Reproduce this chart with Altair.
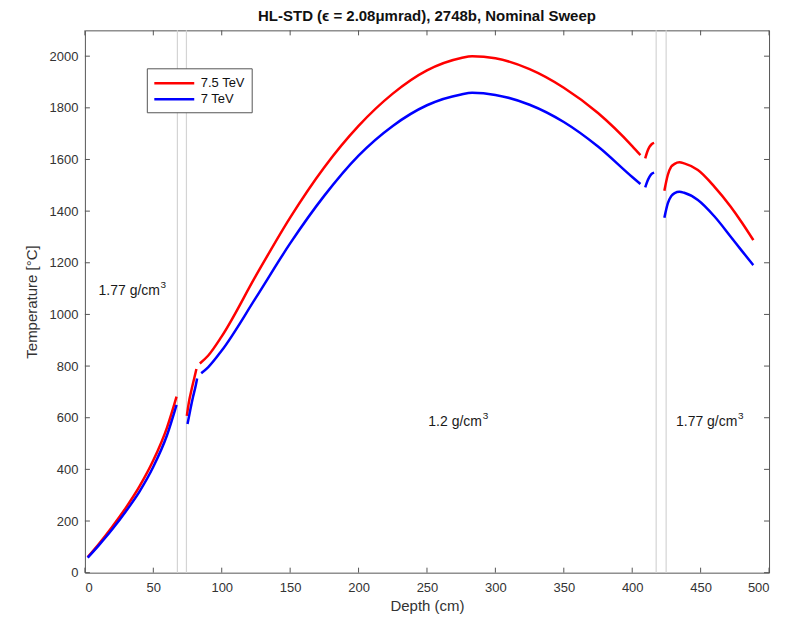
import altair as alt
import pandas as pd

FONT = "Liberation Sans"

# ---- data ----
series_names = ["7.5 TeV", "7 TeV"]
series_colors = ["#ff0000", "#0000ff"]

red_x = [
    [2, 10, 20, 30, 40, 50, 60, 67],
    [74.5, 76, 78, 80, 81.5],
    [84, 90, 100, 125, 150, 175, 200, 225, 250, 275, 283, 300, 325, 350, 375, 400, 406],
    [409.5, 411, 412.5, 414, 416],
    [423.5, 426, 428.5, 431, 434.5, 438, 448, 460, 472, 480, 488.5],
]
red_y = [
    [60, 110, 178, 252, 335, 435, 562, 682],
    [607, 660, 710, 755, 789],
    [810, 840, 915, 1150, 1375, 1570, 1730, 1855, 1945, 1993, 2000, 1992, 1950, 1878, 1780, 1652, 1617],
    [1604, 1630, 1648, 1658, 1664],
    [1479, 1540, 1572, 1583, 1589, 1585, 1559, 1495, 1417, 1357, 1288],
]
blue_x = [
    [2, 10, 20, 30, 40, 50, 60, 67],
    [75, 77, 79, 81, 82],
    [85, 90, 100, 125, 150, 175, 200, 225, 250, 275, 283, 300, 325, 350, 375, 400, 406],
    [409.5, 411, 412.5, 414, 416],
    [423.5, 426, 428.5, 431, 434.5, 438, 448, 460, 472, 480, 488.5],
]
blue_y = [
    [58, 105, 168, 238, 315, 410, 532, 650],
    [576, 630, 680, 725, 752],
    [772, 795, 860, 1065, 1275, 1460, 1615, 1730, 1810, 1852, 1858, 1850, 1812, 1745, 1650, 1532, 1505],
    [1492, 1515, 1532, 1543, 1549],
    [1374, 1430, 1458, 1470, 1475, 1471, 1443, 1380, 1301, 1247, 1191],
]

boundary_x = [67.6, 74.2, 417.5, 424.8]

note_x = [10, 251, 432]
note_y = [1090, 584, 584]
note_text = ["1.77 g/cm", "1.2 g/cm", "1.77 g/cm"]
note_sup = ["3", "3", "3"]

x_ticks = list(range(0, 501, 50))
y_ticks = list(range(0, 2001, 200))

# ---- tables ----
rows = []
for name, xs_all, ys_all in [("7.5 TeV", red_x, red_y), ("7 TeV", blue_x, blue_y)]:
    for k, (xs, ys) in enumerate(zip(xs_all, ys_all)):
        for i, (xv, yv) in enumerate(zip(xs, ys)):
            rows.append({"series": name, "seg": f"{name}-{k}", "depth": xv, "temp": yv, "i": i})
df = pd.DataFrame(rows)
bdf = pd.DataFrame({"depth": boundary_x})
ndf = pd.DataFrame({"depth": note_x, "temp": note_y, "label": note_text, "sup": note_sup})
xtdf = pd.DataFrame({"depth": x_ticks})
ytdf = pd.DataFrame({"temp": y_ticks})

W, H = 685, 543

X = alt.X("depth:Q", scale=alt.Scale(domain=[0, 500], nice=False, zero=False),
          axis=alt.Axis(values=x_ticks, title="Depth (cm)", labelPadding=9,
                        titleY=33, titleBaseline="middle", format="d"))
Y = alt.Y("temp:Q", scale=alt.Scale(domain=[0, 2100], nice=False),
          axis=alt.Axis(values=y_ticks, title="Temperature [°C]", labelPadding=7,
                        titleX=-53, titleBaseline="middle", format="d"))

bounds = alt.Chart(bdf).mark_rule(color="#d4d4d4", strokeWidth=1.2).encode(x=X)

lines = alt.Chart(df).mark_line(strokeWidth=2.5, interpolate="monotone").encode(
    x=X, y=Y,
    color=alt.Color("series:N",
                    scale=alt.Scale(domain=series_names, range=series_colors),
                    sort=series_names,
                    legend=alt.Legend(title=None, orient="none", legendX=62, legendY=38,
                                      symbolType="M-1,0H4.33", symbolStrokeWidth=2.5,
                                      symbolSize=225, labelFontSize=13, labelFont=FONT,
                                      labelColor="#111", fillColor="white",
                                      strokeColor="#555", padding=6, rowPadding=0,
                                      labelOffset=30)),
    detail="seg:N",
    order="i:Q",
)

notes = alt.Chart(ndf).mark_text(align="left", baseline="middle", fontSize=14,
                                 font=FONT, color="#1a1a1a").encode(x=X, y=Y, text="label:N")
sup_a = alt.Chart(ndf).transform_filter(alt.datum.label == "1.77 g/cm").mark_text(
    align="left", baseline="middle", fontSize=10, font=FONT, color="#1a1a1a",
    dx=62, dy=-6).encode(x=X, y=Y, text="sup:N")
sup_b = alt.Chart(ndf).transform_filter(alt.datum.label == "1.2 g/cm").mark_text(
    align="left", baseline="middle", fontSize=10, font=FONT, color="#1a1a1a",
    dx=54.5, dy=-6).encode(x=X, y=Y, text="sup:N")

tick_style = dict(color="#555", strokeWidth=1)
tb = alt.Chart(xtdf).mark_rule(**tick_style).encode(x=X, y=alt.value(H), y2=alt.value(H - 5))
tt = alt.Chart(xtdf).mark_rule(**tick_style).encode(x=X, y=alt.value(0), y2=alt.value(5))
tl = alt.Chart(ytdf).mark_rule(**tick_style).encode(y=Y, x=alt.value(0), x2=alt.value(5))
tr = alt.Chart(ytdf).mark_rule(**tick_style).encode(y=Y, x=alt.value(W), x2=alt.value(W - 5))

chart = alt.layer(bounds, tb, tt, tl, tr, lines, notes, sup_a, sup_b).properties(
    width=W, height=H,
    title=alt.TitleParams("HL-STD (ϵ = 2.08μmrad), 2748b, Nominal Sweep",
                          fontSize=15, fontWeight="bold", font=FONT, color="#111",
                          offset=6),
    autosize=alt.AutoSizeParams(type="none"),
    padding={"left": 77, "top": 22, "right": 30, "bottom": 42},
).configure_view(stroke="#555", strokeWidth=1).configure_axis(
    grid=False, domain=False, ticks=False,
    labelFont=FONT, labelFontSize=13, labelColor="#333",
    titleFont=FONT, titleFontSize=15, titleFontWeight="normal", titleColor="#333",
)

chart.save("out.html", embed_options={"renderer": "svg", "actions": False})
